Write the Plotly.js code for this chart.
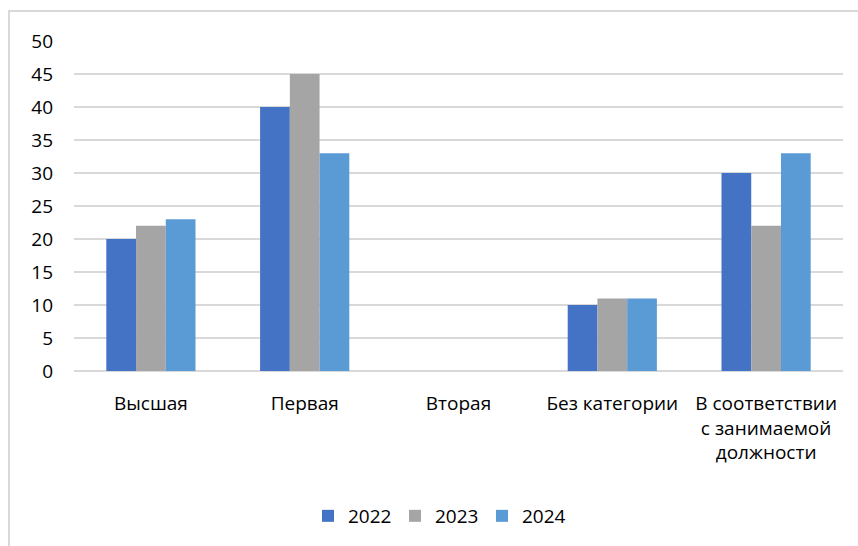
<!DOCTYPE html>
<html><head><meta charset="utf-8">
<script src="https://cdn.plot.ly/plotly-3.0.1.min.js"></script>
<style>
html,body{margin:0;padding:0;background:#fff;}
#frame{position:absolute;left:8px;top:10px;width:900px;height:600px;border:2px solid #d9d9d9;box-sizing:border-box;}
#chart{position:absolute;left:0;top:0;width:858px;height:546px;}
</style></head>
<body>
<div id="frame"></div>
<div id="chart"></div>
<script>
const categories = ["Высшая", "Первая", "Вторая", "Без категории", "В соответствии<br>с занимаемой<br>должности"];
const seriesNames = ["2022", "2023", "2024"];
const values2022 = [20, 40, 0, 10, 30];
const values2023 = [22, 45, 0, 11, 22];
const values2024 = [23, 33, 0, 11, 33];
const colors = ["#4472C4", "#A5A5A5", "#5B9BD5"];
const allValues = [values2022, values2023, values2024];

const font = "Open Sans, Liberation Sans, sans-serif";
const traces = allValues.map((v, i) => ({
  type: "bar", name: seriesNames[i], x: categories, y: v,
  marker: {color: colors[i], line: {width: 0}}
}));

const layout = {
  width: 858, height: 546,
  margin: {l: 74, r: 15, t: 41, b: 174},
  paper_bgcolor: "rgba(0,0,0,0)", plot_bgcolor: "rgba(0,0,0,0)",
  barmode: "group", bargap: 0.42, bargroupgap: 0,
  font: {family: font, size: 19, color: "#000"},
  xaxis: {type: "category", showgrid: false, showline: false, zeroline: false, ticks: "", ticklabelstandoff: 19, tickfont: {size: 19}},
  yaxis: {range: [0, 50], dtick: 5, showgrid: true, gridcolor: "#d9d9d9", gridwidth: 1.5, zeroline: true, zerolinecolor: "#d9d9d9", zerolinewidth: 1.5, showline: false, ticks: "", ticklabelstandoff: 20, tickfont: {size: 19}, fixedrange: true},
  showlegend: true,
  legend: {orientation: "h", x: 0.474, xanchor: "center", y: -0.435, yanchor: "middle", font: {size: 19}, itemwidth: 30, entrywidth: 42, traceorder: "normal"}
};
Plotly.newPlot("chart", traces, layout, {displayModeBar: false, staticPlot: true});
</script>
</body></html>
